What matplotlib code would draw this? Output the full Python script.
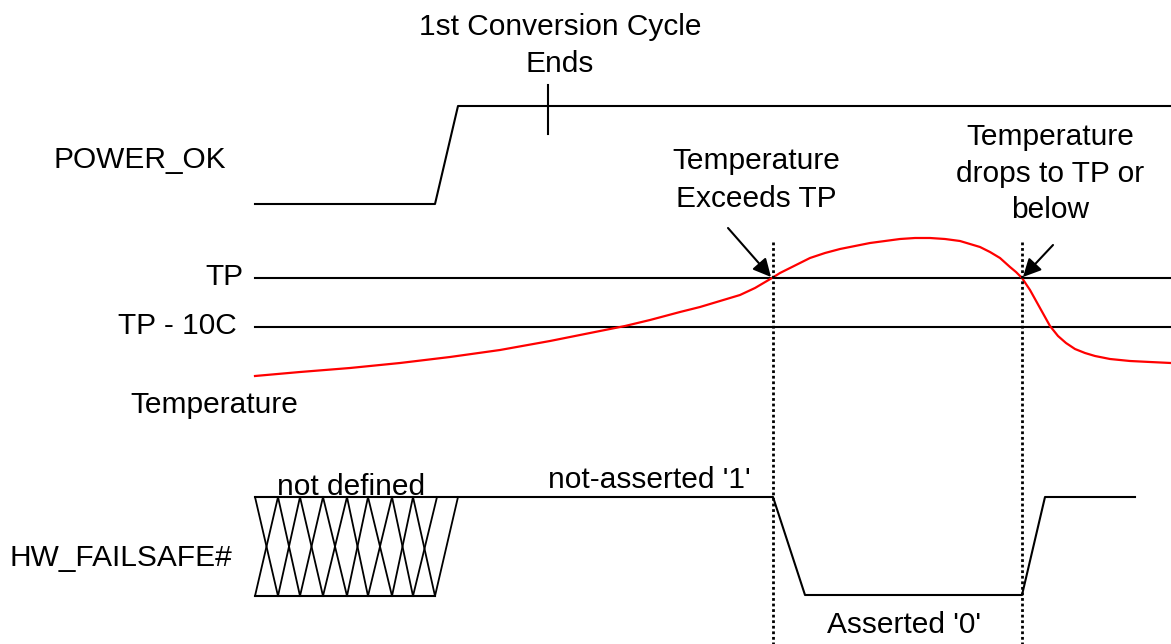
import matplotlib
matplotlib.use('Agg')
import matplotlib.pyplot as plt

plt.rcParams['font.family'] = ['Liberation Sans', 'DejaVu Sans']
plt.rcParams['font.size'] = 21.5

# diagram is laid out in picture pixels (x to the right, y downwards)
W, H = 1171, 644

# POWER_OK waveform
power_x = [255, 435, 458, 1171]
power_y = [204, 204, 106, 106]
conv_tick_x = 548
conv_tick_y = [85, 134]

# threshold levels
tp_y = 278
tp10_y = 327
level_x = [255, 1171]

# temperature curve
temp_x = [255, 300, 350, 400, 450, 500, 550, 600, 625, 650, 680, 700, 720, 740,
          755, 772, 780, 790, 800, 810, 825, 840, 855, 870, 885, 900, 915, 930,
          945, 960, 970, 980, 990, 1000, 1010, 1016, 1022, 1030, 1040, 1050,
          1058, 1066, 1075, 1085, 1095, 1110, 1130, 1150, 1171]
temp_y = [376, 372, 368, 363, 357, 350, 341, 331, 326, 320, 312, 307, 301, 295,
          288, 278, 273, 268, 263, 258, 253, 249, 246, 243, 241, 239, 238, 238,
          239, 241, 244, 247, 252, 258, 267, 272, 278, 290, 308, 326,
          336, 343, 349, 353, 356, 359, 361, 362, 363]

# HW_FAILSAFE# waveform
hw_x = [255, 773, 805, 1022, 1045, 1135]
hw_y = [497, 497, 595, 595, 497, 497]

# "not defined" crossed region
undef_top = [255, 278, 300, 323, 347, 368, 392, 413, 437, 458]
undef_bot = [255, 278, 300, 323, 347, 368, 392, 413, 435]
undef_y = [497, 596]

# event markers
event_x = [773, 1022]
event_top = 242

fig = plt.figure(figsize=(W / 100, H / 100), dpi=100)
ax = fig.add_axes([0, 0, 1, 1])
ax.set_xlim(0, W)
ax.set_ylim(H, 0)
ax.axis('off')

lw = 1.5
ax.plot(power_x, power_y, color='black', lw=lw)
ax.plot([conv_tick_x, conv_tick_x], conv_tick_y, color='black', lw=lw)

ax.plot(level_x, [tp_y, tp_y], color='black', lw=lw)
ax.plot(level_x, [tp10_y, tp10_y], color='black', lw=lw)
ax.plot(temp_x, temp_y, color='red', lw=1.6, solid_joinstyle='round')

ax.plot(hw_x, hw_y, color='black', lw=lw)

# crossed lines of the undefined state
ax.plot([undef_bot[0], undef_bot[-1]], [undef_y[1], undef_y[1]], color='black', lw=lw)
for i in range(len(undef_bot) - 1):
    ax.plot([undef_top[i], undef_bot[i + 1]], undef_y, color='black', lw=1.3)
    ax.plot([undef_top[i + 1], undef_bot[i]], undef_y, color='black', lw=1.3)
ax.plot([undef_top[-1], undef_bot[-1]], undef_y, color='black', lw=1.3)

for ex in event_x:
    ax.plot([ex, ex], [event_top, H], color='black', lw=2.0, linestyle=(0, (1.0, 1.0)))

arrow = dict(arrowstyle='-|>', color='black', lw=1.5, mutation_scale=27,
             shrinkA=0, shrinkB=0)
ax.annotate('', xy=(771, 277), xytext=(728, 228), arrowprops=arrow)
ax.annotate('', xy=(1023, 277), xytext=(1053, 245), arrowprops=arrow)

labels = [
    ("1st Conversion Cycle", 560, 35, 'center'),
    ("Ends", 560, 72, 'center'),
    ("POWER_OK", 53, 168, 'left'),
    ("TP", 243, 285, 'right'),
    ("TP - 10C", 237, 334, 'right'),
    ("Temperature", 130, 413, 'left'),
    ("not defined", 351, 495, 'center'),
    ("not-asserted '1'", 649, 488, 'center'),
    ("HW_FAILSAFE#", 10, 566, 'left'),
    ("Temperature", 756, 169, 'center'),
    ("Exceeds TP", 756, 207, 'center'),
    ("Temperature", 1050, 145, 'center'),
    ("drops to TP or", 1050, 182, 'center'),
    ("below", 1050, 218, 'center'),
    ("Asserted '0'", 904, 633, 'center'),
]
for txt, x, y, ha in labels:
    ax.text(x, y, txt, ha=ha, va='baseline', color='black')

fig.savefig('out.png', dpi=100, facecolor='white')
plt.close(fig)
